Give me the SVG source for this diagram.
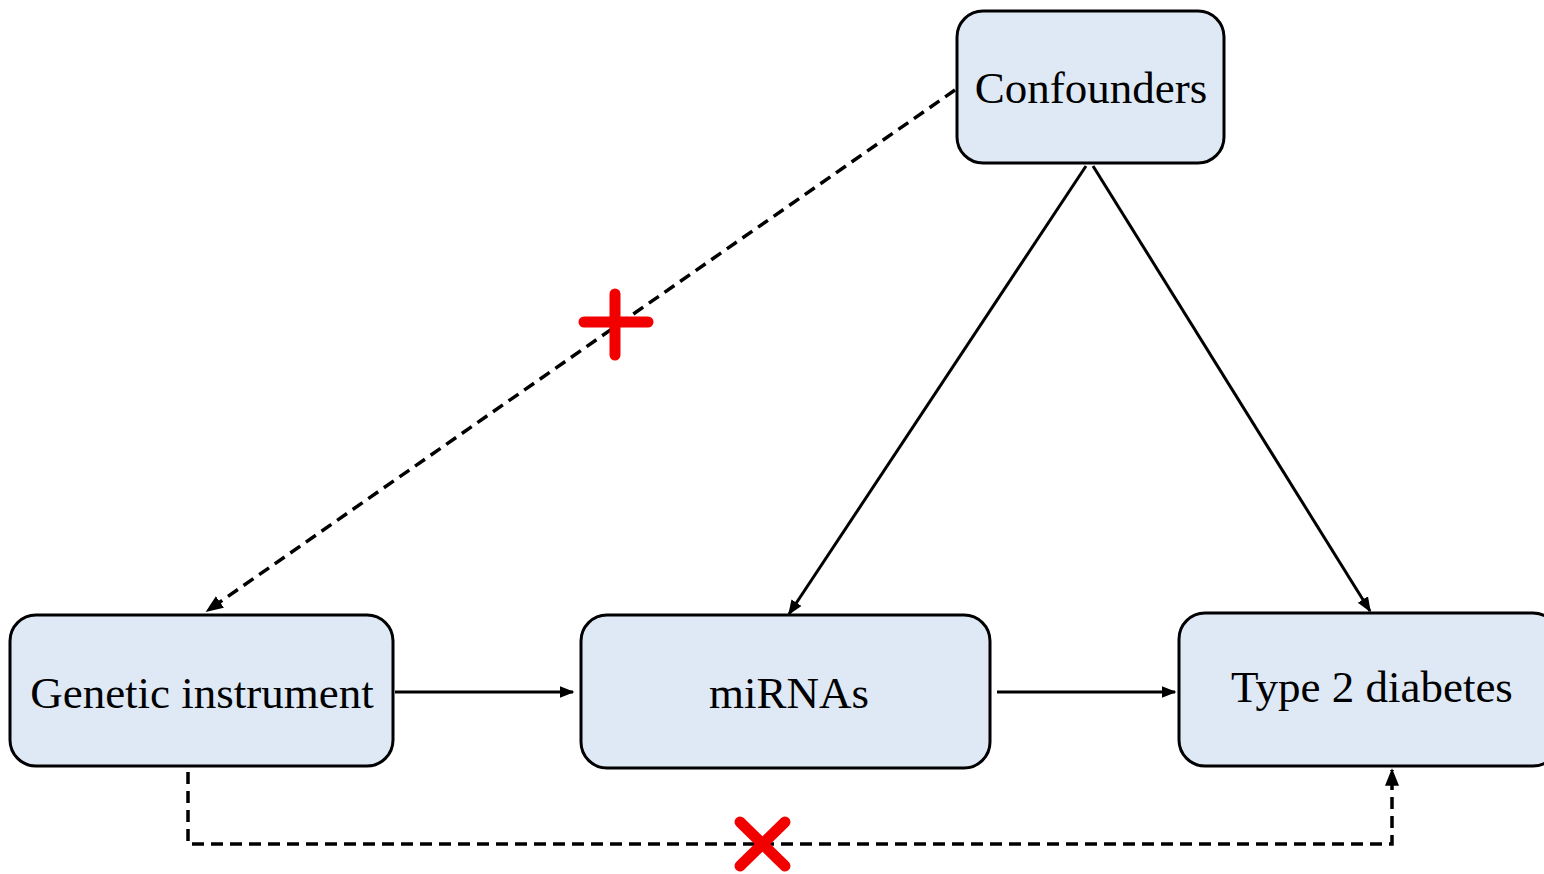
<svg xmlns="http://www.w3.org/2000/svg" width="1544" height="874" viewBox="0 0 1544 874">
<style>
.box{fill:#DEE9F5;stroke:#000;stroke-width:3}
.lbl{font-family:"Liberation Serif","Times New Roman",serif;font-size:45px;fill:#000;text-anchor:middle}
.solid{stroke:#000;stroke-width:3;fill:none}
.dash{stroke:#000;stroke-width:3.5;fill:none;stroke-dasharray:12 7}
.red{stroke:#F20000;stroke-width:11;stroke-linecap:round;fill:none}
</style>
<defs>
<marker id="ah" viewBox="0 0 10 10" refX="9" refY="5" markerWidth="5" markerHeight="5" orient="auto" markerUnits="strokeWidth">
<path d="M0,1 L10,5 L0,9 Z" fill="#000"/>
</marker>
</defs>
<rect width="1544" height="874" fill="#fff"/>
<g id="connectors">
<line class="solid" x1="395" y1="692" x2="573" y2="692" marker-end="url(#ah)"/>
<line class="solid" x1="997" y1="692" x2="1175" y2="692" marker-end="url(#ah)"/>
<line class="solid" x1="1086" y1="166" x2="789" y2="614" marker-end="url(#ah)"/>
<line class="solid" x1="1093" y1="166" x2="1370" y2="611" marker-end="url(#ah)"/>
<line class="dash" x1="955" y1="90" x2="207" y2="611" marker-end="url(#ah)"/>
<polyline class="dash" points="188,772 188,844 1392,844 1392,770" marker-end="url(#ah)"/>
<g id="plus">
<line class="red" x1="584" y1="322" x2="648" y2="322"/>
<line class="red" x1="615" y1="294" x2="615" y2="355"/>
</g>
<g id="cross">
<line class="red" x1="740" y1="822" x2="785" y2="866"/>
<line class="red" x1="785" y1="822" x2="740" y2="866"/>
</g>
</g>
<g id="confounders">
<rect class="box" x="957" y="11" width="267" height="152" rx="26"/>
<text class="lbl" x="1091" y="103">Confounders</text>
</g>
<g id="genetic">
<rect class="box" x="10" y="615" width="383" height="151" rx="26"/>
<text class="lbl" x="202" y="708">Genetic instrument</text>
</g>
<g id="mirnas">
<rect class="box" x="581" y="615" width="409" height="153" rx="26"/>
<text class="lbl" x="789" y="708">miRNAs</text>
</g>
<g id="t2d">
<rect class="box" x="1179" y="613" width="380" height="153" rx="26"/>
<text class="lbl" x="1372" y="702">Type 2 diabetes</text>
</g>
</svg>
